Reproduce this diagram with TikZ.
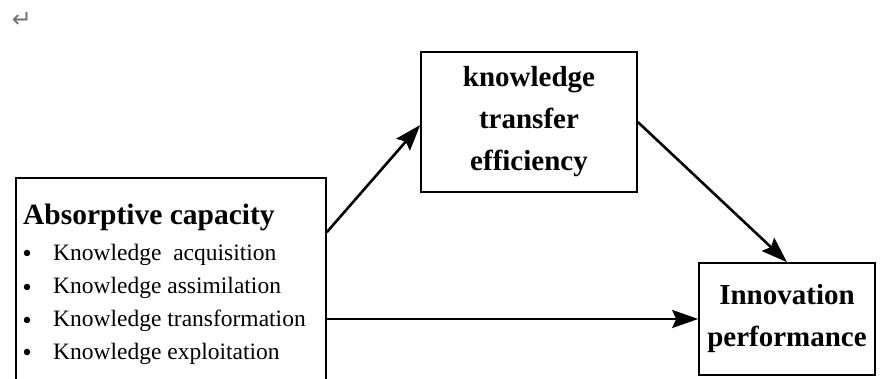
\documentclass[tikz,border=0pt]{standalone}
\usepackage{fontspec}
\setmainfont{Liberation Serif}
\newfontfamily\symfont{DejaVu Sans}
\usetikzlibrary{arrows.meta}
\begin{document}
\begin{tikzpicture}[x=1pt,y=-1pt,
  box/.style={draw, line width=1.6pt, rectangle, inner sep=0pt},
  boldtxt/.style={font=\bfseries\fontsize{29}{42}\selectfont, align=center},
  itemtxt/.style={font=\fontsize{23.5}{28}\selectfont, anchor=base west, inner sep=0pt},
  dot/.style={circle, fill=black, inner sep=0pt, minimum size=6.5pt},
  conn/.style={line width=2.6pt, -{Stealth[length=26pt,width=18pt,inset=4pt]}}]
\useasboundingbox (0,0) rectangle (884,379);
\clip (0,0) rectangle (884,379);
\fill[white] (0,0) rectangle (884,379);
% paragraph mark
\node[text=black!55, font=\symfont\fontsize{24}{26}\selectfont, inner sep=0pt] (pm) at (22,20) {↵};
% boxes
\node[box, minimum width=310pt, minimum height=220pt] (abs) at (171,288) {};
\node[box, boldtxt, minimum width=216pt, minimum height=140pt] (kte) at (529,122) {knowledge\\transfer\\efficiency};
\node[box, boldtxt, minimum width=176pt, minimum height=112pt] (ip) at (787,319) {Innovation\\performance};
% left box text
\node[font=\bfseries\fontsize{29.5}{32}\selectfont, anchor=base west, inner sep=0pt] (title) at (23,225) {Absorptive capacity};
\node[dot] (b1) at (27,253) {};
\node[itemtxt] (t1) at (53,261) {Knowledge \ acquisition};
\node[dot] (b2) at (27,287) {};
\node[itemtxt] (t2) at (53,294) {Knowledge assimilation};
\node[dot] (b3) at (27,320) {};
\node[itemtxt] (t3) at (53,327) {Knowledge transformation};
\node[dot] (b4) at (27,352) {};
\node[itemtxt] (t4) at (53,360) {Knowledge exploitation};
% connectors
\draw[conn] ([yshift=-55pt]abs.north east) -- ([yshift=-3pt]kte.west);
\draw[conn] (kte.east) -- (ip.north);
\draw[conn] (ip.west -| abs.east) -- (ip.west);
\end{tikzpicture}
\end{document}
